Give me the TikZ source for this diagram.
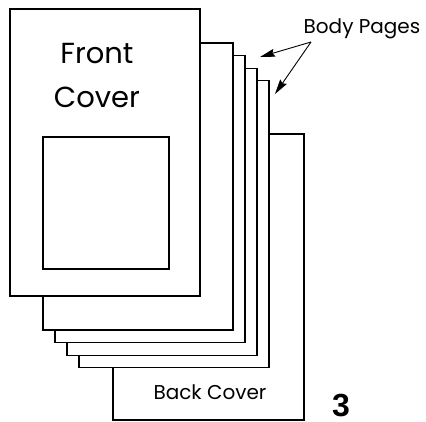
\documentclass[tikz,border=0pt]{standalone}
\usepackage{fontspec}
\setmainfont{Poppins}
\newfontfamily\numfont{Liberation Sans}
\usetikzlibrary{arrows.meta}

\tikzstyle{sheet}=[draw, line width=1.1pt, fill=white, anchor=north west, inner sep=0pt, outer sep=0pt, minimum width=190pt, minimum height=287pt]
\tikzstyle{label}=[inner sep=0pt, font=\fontsize{20}{24}\selectfont]
\tikzstyle{pointto}=[-{Stealth[length=15pt,width=8pt,inset=2pt]}, line width=0.9pt]

\begin{document}
\begin{tikzpicture}[x=1pt, y=-1pt]
\useasboundingbox (0,0) rectangle (426,421);
\node[sheet, minimum width=191pt, minimum height=286pt] (back) at (113,134) {};
\foreach \i in {4,3,2,1}
  \node[sheet] (page\i) at ({43+12*(\i-1)},{43+12.6*(\i-1)}) {};
\node[sheet] (front) at (10,9) {};
\node[sheet, minimum width=126pt, minimum height=132pt] (window) at (43,137) {};
\node[label, anchor=base, align=center, font=\fontsize{29}{44}\selectfont] (fronttext) at (97,107) {Front\\Cover};
\node[label, anchor=base] (backtext) at (210,399) {Back Cover};
\node[label, anchor=base] (bodytext) at (362,33) {Body Pages};
\node[inner sep=0pt, anchor=base, font=\numfont\bfseries\fontsize{32}{38}\selectfont] (num) at (341,416) {3};
\coordinate (tail) at (311,42);
\coordinate (tip1) at (260,57);
\coordinate (tip2) at (275,94);
\draw[pointto] (tail) -- (tip1);
\draw[pointto] (tail) -- (tip2);
\end{tikzpicture}
\end{document}
